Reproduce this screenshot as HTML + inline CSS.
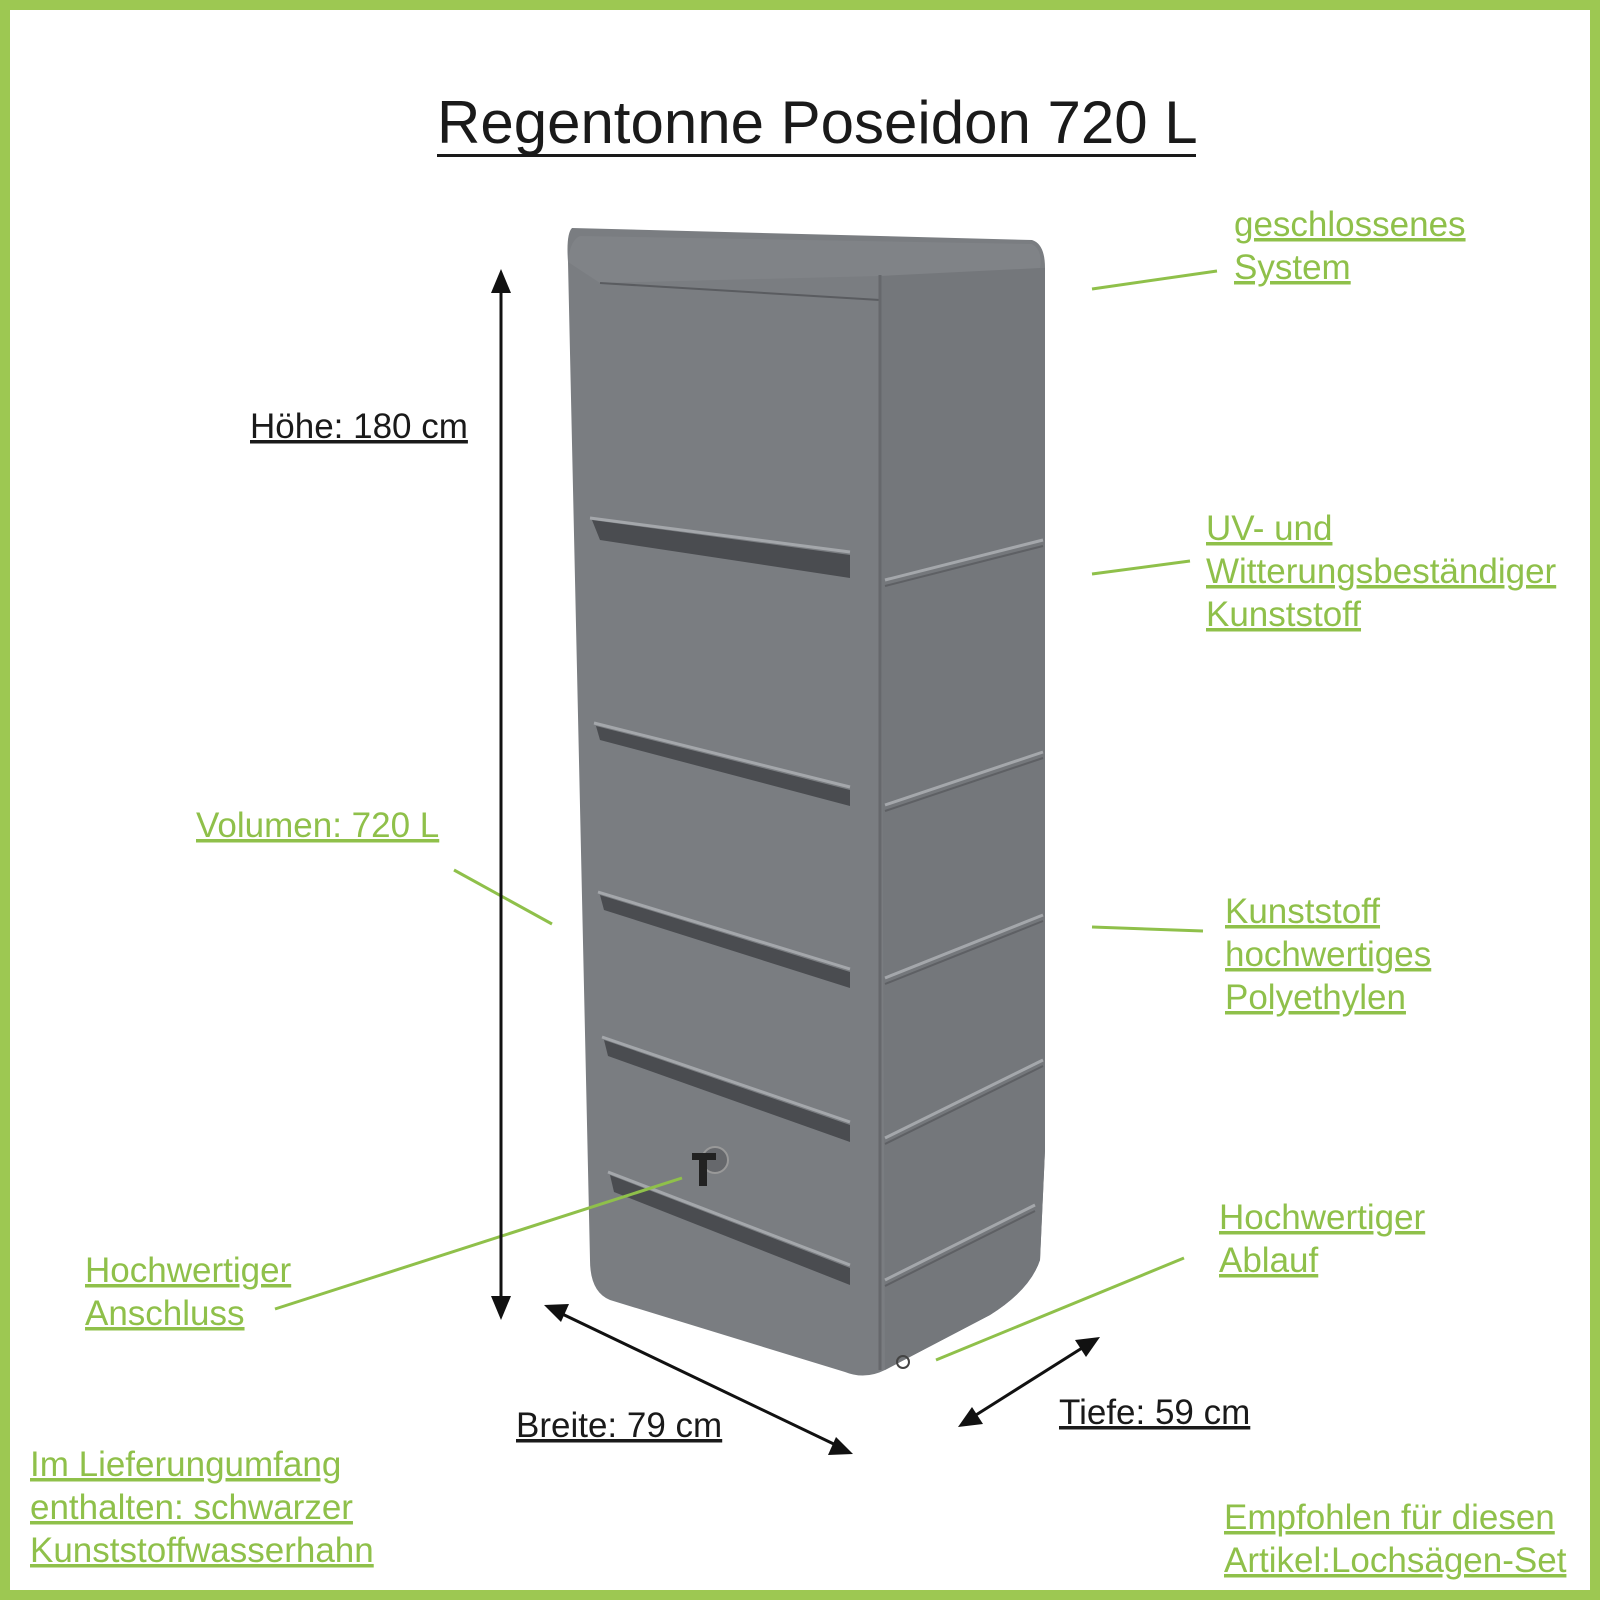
<!DOCTYPE html>
<html><head><meta charset="utf-8"><style>
html,body{margin:0;padding:0;background:#fff}
svg{display:block}
text{font-family:"Liberation Sans",Arial,sans-serif}
.g{fill:#8fc04a;font-size:35px;text-decoration:underline}
.b{fill:#1a1a1a;font-size:35px;text-decoration:underline}
</style></head><body>
<svg width="1600" height="1600" viewBox="0 0 1600 1600" xmlns="http://www.w3.org/2000/svg">
<rect x="5" y="5" width="1590" height="1590" fill="#fff" stroke="#9dc852" stroke-width="10"/>
<text x="437" y="143" style="font-size:60px;fill:#1a1a1a">Regentonne Poseidon 720 L</text>
<rect x="437" y="154" width="759" height="3" fill="#1a1a1a"/>

<!-- tank -->
<path d="M572,228 L1032,240 Q1045,244 1045,268 L1045,1150 L1040,1260 Q1030,1290 990,1315 L885,1370 Q865,1380 845,1372 L610,1300 Q590,1292 590,1260 L568,262 Q566,234 572,228 Z" fill="#7a7d81"/>
<path d="M880,268 L1045,268 L1045,1150 L1040,1260 Q1030,1290 990,1315 L885,1370 Z" fill="#74777b"/>
<path d="M568,262 Q570,240 580,236 L1032,244 Q1043,250 1040,268 L880,276 L600,283 Z" fill="#808387"/>
<line x1="600" y1="283" x2="880" y2="300" stroke="#5a5c60" stroke-width="2"/>
<line x1="880" y1="275" x2="880" y2="1370" stroke="#66686c" stroke-width="3"/>
<g fill="#4a4c50">
<path d="M592,520 L850,555 L850,578 L600,540 Z"/>
<path d="M596,726 L850,790 L850,806 L600,740 Z"/>
<path d="M600,895 L850,972 L850,988 L604,910 Z"/>
<path d="M604,1040 L850,1125 L850,1142 L608,1056 Z"/>
<path d="M610,1175 L850,1268 L850,1285 L614,1192 Z"/>
</g>
<g stroke="#a4a7ab" stroke-width="3" fill="none">
<path d="M590,518 L850,552"/>
<path d="M594,723 L850,787"/>
<path d="M598,892 L850,969"/>
<path d="M602,1037 L850,1122"/>
<path d="M608,1172 L850,1265"/>
<path d="M885,580 L1043,540"/>
<path d="M885,805 L1043,752"/>
<path d="M885,978 L1043,915"/>
<path d="M885,1138 L1043,1060"/>
<path d="M885,1280 L1035,1205"/>
</g>
<g stroke="#5e6064" stroke-width="2" fill="none">
<path d="M885,586 L1043,546"/>
<path d="M885,811 L1043,758"/>
<path d="M885,984 L1043,921"/>
<path d="M885,1144 L1043,1066"/>
<path d="M885,1286 L1035,1211"/>
</g>
<circle cx="715" cy="1160" r="13" fill="#66686c" stroke="#999" stroke-width="2"/>
<rect x="692" y="1153" width="24" height="7" fill="#222"/>
<rect x="699" y="1156" width="8" height="30" fill="#222"/>
<circle cx="903" cy="1362" r="6" fill="none" stroke="#444" stroke-width="2"/>

<!-- connectors -->
<g stroke="#8fc04a" stroke-width="3">
<line x1="1092" y1="289" x2="1217" y2="271"/>
<line x1="1092" y1="574" x2="1190" y2="561"/>
<line x1="1092" y1="927" x2="1203" y2="931"/>
<line x1="1184" y1="1258" x2="936" y2="1360"/>
<line x1="454" y1="870" x2="552" y2="924"/>
<line x1="275" y1="1309" x2="682" y2="1178"/>
</g>
<!-- arrows -->
<g stroke="#111" stroke-width="3" fill="#111">
<line x1="501" y1="285" x2="501" y2="1305"/>
<polygon points="501,269 491,293 511,293" stroke="none"/>
<polygon points="501,1320 491,1296 511,1296" stroke="none"/>
<line x1="556" y1="1311" x2="840" y2="1447"/>
<polygon points="544,1305 561,1322 569,1304" stroke="none"/>
<polygon points="853,1454 836,1437 828,1455" stroke="none"/>
<line x1="968" y1="1420" x2="1090" y2="1343"/>
<polygon points="958,1427 983,1424 972,1407" stroke="none"/>
<polygon points="1100,1337 1075,1340 1086,1357" stroke="none"/>
</g>

<!-- labels -->
<text x="1234" y="236" class="g">geschlossenes </text>
<text x="1234" y="279" class="g">System</text>
<text x="1206" y="540" class="g">UV- und </text>
<text x="1206" y="583" class="g">Witterungsbeständiger </text>
<text x="1206" y="626" class="g">Kunststoff</text>
<text x="1225" y="923" class="g">Kunststoff</text>
<text x="1225" y="966" class="g">hochwertiges </text>
<text x="1225" y="1009" class="g">Polyethylen</text>
<text x="1219" y="1229" class="g">Hochwertiger</text>
<text x="1219" y="1272" class="g">Ablauf</text>
<text x="196" y="837" class="g">Volumen: 720 L</text>
<text x="85" y="1282" class="g">Hochwertiger </text>
<text x="85" y="1325" class="g">Anschluss</text>
<text x="30" y="1476" class="g">Im Lieferungumfang</text>
<text x="30" y="1519" class="g">enthalten: schwarzer</text>
<text x="30" y="1562" class="g">Kunststoffwasserhahn</text>
<text x="1224" y="1529" class="g">Empfohlen für diesen</text>
<text x="1224" y="1572" class="g">Artikel:Lochsägen-Set</text>
<text x="250" y="438" class="b">Höhe: 180 cm</text>
<text x="516" y="1437" class="b">Breite: 79 cm </text>
<text x="1059" y="1424" class="b">Tiefe: 59 cm</text>
</svg>
</body></html>
